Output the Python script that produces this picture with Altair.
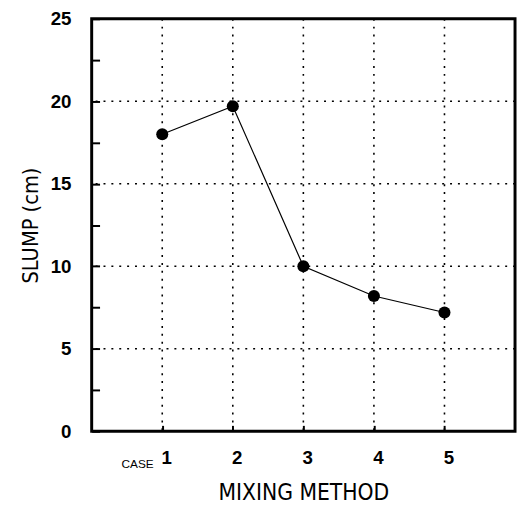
import altair as alt
import pandas as pd

# ---- data ----
cases = [1, 2, 3, 4, 5]
slump = [18.0, 19.7, 10.0, 8.2, 7.2]
x_tick_values = [1, 2, 3, 4, 5]
y_tick_values = [0, 2.5, 5, 7.5, 10, 12.5, 15, 17.5, 20, 22.5, 25]
y_label_values = [0, 5, 10, 15, 20, 25]
y_grid_values = [5, 10, 15, 20]
x_grid_values = [1, 2, 3, 4, 5]
case_word = ["CASE"]
x_title = "MIXING METHOD"
y_title = "SLUMP (cm)"

W, H = 430, 419
FONT = "Liberation Sans"
NARROW = "Liberation Sans Narrow, DejaVu Sans Condensed, sans-serif"

df = pd.DataFrame({"case": cases, "slump": slump})
xs = alt.Scale(domain=[0, 6], nice=False, zero=False)
ys = alt.Scale(domain=[0, 25], nice=False)

vgrid = alt.Chart(pd.DataFrame({"g": x_grid_values})).mark_rule(
    color="black", strokeDash=[2, 6], strokeWidth=1.6
).encode(x=alt.X("g:Q", scale=xs, axis=None))

hgrid = alt.Chart(pd.DataFrame({"g": y_grid_values})).mark_rule(
    color="black", strokeDash=[2, 6], strokeWidth=1.6
).encode(y=alt.Y("g:Q", scale=ys, axis=None))

line = alt.Chart(df).mark_line(
    color="black", strokeWidth=1.2,
    point=alt.OverlayMarkDef(filled=True, size=150, color="black", opacity=1),
).encode(
    x=alt.X("case:Q", scale=xs, axis=alt.Axis(
        values=x_tick_values, title=x_title, ticks=False, tickSize=0, domain=False, grid=False,
        labelFont=FONT, labelFontSize=19, labelFontWeight="bold", labelColor="black",
        labelPadding=18, labelOffset=4,
        titleFont=NARROW, titleFontSize=23, titleFontWeight="normal", titleColor="black",
        titlePadding=14)),
    y=alt.Y("slump:Q", scale=ys, axis=alt.Axis(
        values=y_label_values, title=y_title, ticks=False, tickSize=0, domain=False, grid=False,
        labelFont=FONT, labelFontSize=19, labelFontWeight="bold", labelColor="black",
        labelPadding=21,
        titleFont=NARROW, titleFontSize=22, titleFontWeight="normal", titleColor="black",
        titlePadding=8)),
)

ticks = alt.Chart(df).mark_point(opacity=0).encode(
    x=alt.X("case:Q", scale=xs, axis=alt.Axis(
        orient="top", offset=-H, values=x_tick_values, labels=False, domain=False,
        grid=False, ticks=True, tickSize=6, tickWidth=2, tickColor="black", title=None)),
    y=alt.Y("slump:Q", scale=ys, axis=alt.Axis(
        orient="right", offset=-W, values=y_tick_values, labels=False, domain=False,
        grid=False, ticks=True, tickSize=8, tickWidth=2, tickColor="black", title=None)),
)

case_text = alt.Chart(pd.DataFrame({"case": [cases[0]], "slump": [0], "t": case_word})).mark_text(
    font=FONT, fontSize=12, color="black", align="center", baseline="alphabetic",
    dx=-25, dy=37,
).encode(
    x=alt.X("case:Q", scale=xs, axis=None),
    y=alt.Y("slump:Q", scale=ys, axis=None),
    text="t:N",
)

chart = alt.layer(vgrid, hgrid, line, ticks, case_text).resolve_axis(
    x="independent", y="independent"
).properties(
    width=W, height=H,
    padding={"left": 85, "top": 7, "right": 2, "bottom": 75},
    autosize=alt.AutoSizeParams(type="none"),
).configure_view(stroke="black", strokeWidth=3)

chart.save("out.html", embed_options={"renderer": "svg", "actions": False})
